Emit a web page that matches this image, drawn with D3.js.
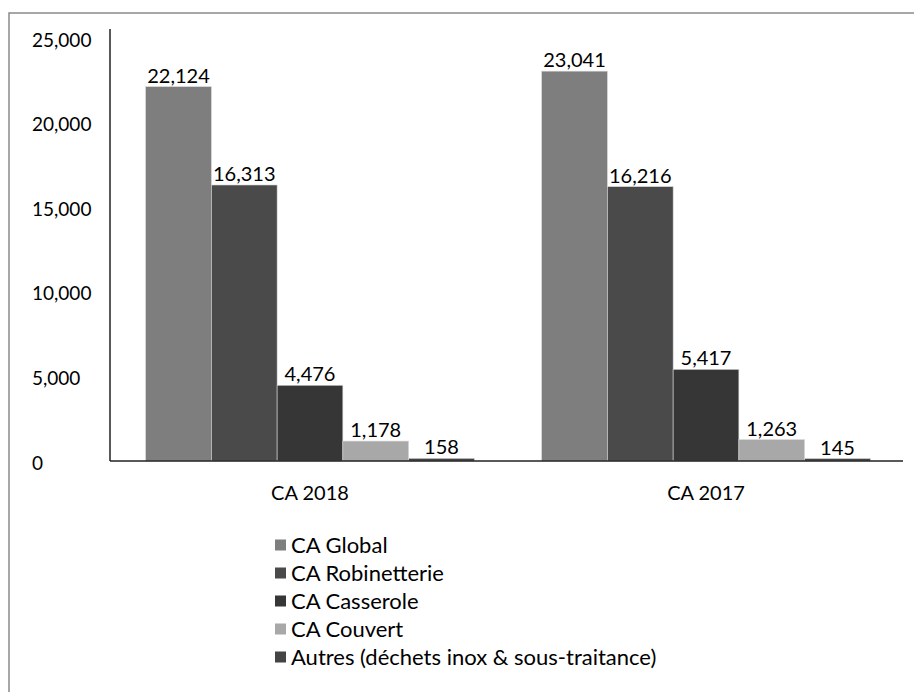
<!DOCTYPE html>
<html>
<head>
<meta charset="utf-8">
<script src="https://cdn.jsdelivr.net/npm/d3@7"></script>
<style>
  body { margin: 0; background: #fff; }
  text { font-family: Lato, "Open Sans", sans-serif; fill: #000; }
</style>
</head>
<body>
<svg id="chart" width="914" height="692"></svg>
<script>
var categories = ["CA 2018", "CA 2017"];
var seriesNames = ["CA Global", "CA Robinetterie", "CA Casserole", "CA Couvert", "Autres (déchets inox & sous-traitance)"];
var caGlobal = [22124, 23041];
var caRobinetterie = [16313, 16216];
var caCasserole = [4476, 5417];
var caCouvert = [1178, 1263];
var autres = [158, 145];
var yTicks = [0, 5000, 10000, 15000, 20000, 25000];
var colors = ["#7e7e7e", "#4a4a4a", "#363636", "#a8a8a8", "#444444"];

var seriesValues = [caGlobal, caRobinetterie, caCasserole, caCouvert, autres];

var svg = d3.select("#chart");
var plotLeft = 110, plotRight = 906, plotTop = 38, plotBottom = 461;

// frame
svg.append("path")
  .attr("d", "M9,692 L9,13 L914,13")
  .attr("fill", "none")
  .attr("stroke", "#8a8a8a")
  .attr("stroke-width", 1.5);

var x0 = d3.scaleBand().domain(categories).range([plotLeft, plotRight])
  .paddingInner(0.17).paddingOuter(0.09);
var x1 = d3.scaleBand().domain(seriesNames).range([0, x0.bandwidth()]);
var y = d3.scaleLinear().domain([0, 25000]).range([plotBottom, plotTop]);

// y labels (left aligned like the original)
svg.selectAll(".ylab").data(yTicks).enter().append("text")
  .attr("class", "ylab")
  .attr("x", 32)
  .attr("y", function(d) { return y(d) + 2; })
  .attr("dy", "0.35em")
  .attr("font-size", 19)
  .text(function(d) { return d3.format(",")(d); });

var rows = [];
categories.forEach(function(c, i) {
  seriesNames.forEach(function(s, j) {
    rows.push({cat: c, name: s, idx: j, value: seriesValues[j][i]});
  });
});

svg.selectAll(".bar").data(rows).enter().append("rect")
  .attr("class", "bar")
  .attr("x", function(d) { return x0(d.cat) + x1(d.name); })
  .attr("y", function(d) { return y(d.value); })
  .attr("width", x1.bandwidth())
  .attr("height", function(d) { return plotBottom - y(d.value); })
  .attr("fill", function(d) { return colors[d.idx]; })
  .attr("stroke", "#d8d8d8")
  .attr("stroke-width", 0.6);

svg.selectAll(".val").data(rows).enter().append("text")
  .attr("class", "val")
  .attr("x", function(d) { return x0(d.cat) + x1(d.name) + x1.bandwidth() / 2; })
  .attr("y", function(d) { return y(d.value) - 4; })
  .attr("text-anchor", "middle")
  .attr("font-size", 20)
  .text(function(d) { return d3.format(",")(d.value); });

// axes lines
svg.append("line").attr("x1", plotLeft).attr("x2", plotLeft).attr("y1", 29).attr("y2", plotBottom)
  .attr("stroke", "#222").attr("stroke-width", 1.5);
svg.append("line").attr("x1", plotLeft).attr("x2", 903).attr("y1", plotBottom).attr("y2", plotBottom)
  .attr("stroke", "#222").attr("stroke-width", 1.5);

svg.selectAll(".xlab").data(categories).enter().append("text")
  .attr("class", "xlab")
  .attr("x", function(d) { return x0(d) + x0.bandwidth() / 2; })
  .attr("y", 493)
  .attr("dy", "0.35em")
  .attr("text-anchor", "middle")
  .attr("font-size", 20)
  .text(function(d) { return d; });

// legend
var legend = svg.selectAll(".leg").data(seriesNames).enter().append("g")
  .attr("class", "leg")
  .attr("transform", function(d, i) { return "translate(275," + (545 + i * 28) + ")"; });
legend.append("rect")
  .attr("x", 0).attr("y", -5.5).attr("width", 11).attr("height", 11)
  .attr("fill", function(d, i) { return colors[i]; });
legend.append("text")
  .attr("x", 16).attr("y", 0).attr("dy", "0.35em")
  .attr("font-size", 22)
  .text(function(d) { return d; });
</script>
</body>
</html>
